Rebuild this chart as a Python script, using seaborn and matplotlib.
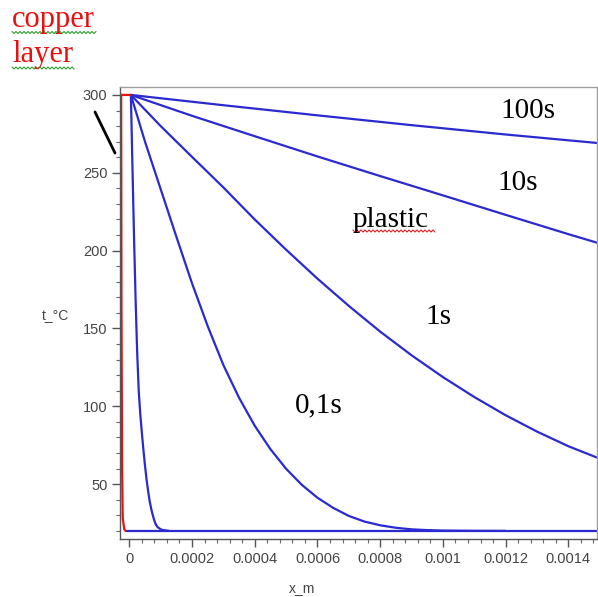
import numpy as np
import pandas as pd
import matplotlib
matplotlib.use("Agg")
import matplotlib.pyplot as plt
from matplotlib.lines import Line2D
from matplotlib.ticker import MultipleLocator, FixedLocator
import seaborn as sns

# ---- data ----
x_fast = [0.000005, 0.000010, 0.000015, 0.000020, 0.000025, 0.000030, 0.000035, 0.000040,
          0.000045, 0.000050, 0.000055, 0.000060, 0.000065, 0.000070, 0.000075, 0.000080,
          0.000085, 0.000090, 0.000100, 0.000110, 0.000125]
t_fast = [300, 254, 209, 169, 135, 110, 95, 83,
          72, 62, 53, 45.5, 39, 34, 30, 26.5,
          24, 22.5, 21, 20.4, 20.1]

x_01s = [0.000005, 0.00005, 0.0001, 0.00015, 0.0002, 0.00025, 0.0003, 0.00035, 0.0004,
         0.00045, 0.0005, 0.00055, 0.0006, 0.00065, 0.0007, 0.00075, 0.0008, 0.00085,
         0.0009, 0.00095, 0.001, 0.0011, 0.0012]
t_01s = [300, 270, 239.5, 209, 179, 151.5, 126.5, 105.5, 87.5,
         72.5, 59.9, 49.6, 41.3, 34.8, 29.6, 26.0, 23.6, 22.0,
         21.0, 20.5, 20.2, 20.05, 20]

x_1s = [0.000005, 0.0001, 0.0002, 0.0003, 0.0004, 0.0005, 0.0006, 0.0007, 0.0008,
        0.0009, 0.001, 0.0011, 0.0012, 0.0013, 0.0014, 0.0015]
t_1s = [300, 280, 260.2, 240.6, 220.0, 200.6, 182.0, 164.5, 148.0,
        132.8, 118.8, 106.0, 94.3, 83.8, 74.4, 66.4]

x_10s = [0.000005, 0.0002, 0.0004, 0.0006, 0.0008, 0.001, 0.0012, 0.0014, 0.0015]
t_10s = [300, 286.6, 273.5, 260.5, 247.9, 235.5, 223.0, 210.6, 204.6]

x_100s = [0.000005, 0.0003, 0.0006, 0.0009, 0.0012, 0.0015]
t_100s = [300, 293.4, 286.9, 280.6, 274.6, 269.0]

x_base = [-0.000012, 0.0015]
t_base = [20, 20]

x_copper = [0.000003, -0.000026, -0.000025, -0.000023, -0.000021, -0.000016, -0.000012]
t_copper = [300, 300, 165, 60, 28, 21, 20]

x_ticks = [0, 0.0002, 0.0004, 0.0006, 0.0008, 0.001, 0.0012, 0.0014]
x_ticklabels = ["0", "0.0002", "0.0004", "0.0006", "0.0008", "0.001", "0.0012", "0.0014"]
y_ticks = [50, 100, 150, 200, 250, 300]

curve_labels = ["100s", "10s", "plastic", "1s", "0,1s"]

# ---- build long table ----
series = {
    "fast": (x_fast, t_fast),
    "0,1s": (x_01s, t_01s),
    "1s": (x_1s, t_1s),
    "10s": (x_10s, t_10s),
    "100s": (x_100s, t_100s),
    "base": (x_base, t_base),
    "copper": (x_copper, t_copper),
}
rows = []
for name, (xs, ts) in series.items():
    for i, (xv, tv) in enumerate(zip(xs, ts)):
        rows.append({"series": name, "order": i, "x_m": xv, "t_C": tv})
df = pd.DataFrame(rows)

sns.set_theme(style="white")
plt.rcParams["font.family"] = ["Liberation Sans", "DejaVu Sans"]

W, H = 598, 597
fig = plt.figure(figsize=(W / 100, H / 100), dpi=100)
ax = fig.add_axes([120 / W, 1 - 539.3 / H, (597 - 120) / W, (539.3 - 87) / H])

blue = "#2a2ad0"
red = "#e81010"
palette = {"fast": blue, "0,1s": blue, "1s": blue, "10s": blue, "100s": blue,
           "base": blue, "copper": red}
order = ["base", "fast", "0,1s", "1s", "10s", "100s", "copper"]
sns.lineplot(data=df, x="x_m", y="t_C", hue="series", hue_order=order,
             units="series", estimator=None, sort=False, palette=palette,
             linewidth=1.6, legend=False, ax=ax)

ax.set_xlim(-0.0000297, 0.0014915)
ax.set_ylim(14.6, 305.1)
ax.xaxis.set_major_locator(FixedLocator(x_ticks))
ax.set_xticklabels(x_ticklabels)
ax.xaxis.set_minor_locator(MultipleLocator(0.00004))
ax.yaxis.set_major_locator(FixedLocator(y_ticks))
ax.yaxis.set_minor_locator(MultipleLocator(10))

ax.tick_params(axis="both", which="major", direction="out", length=6, width=1,
               color="#555555", labelsize=10.5, labelcolor="#444444", pad=3,
               bottom=True, left=True)
ax.tick_params(axis="both", which="minor", direction="out", length=3, width=0.8,
               color="#666666", bottom=True, left=True)

for side in ["left", "bottom"]:
    ax.spines[side].set_color("#555555")
    ax.spines[side].set_linewidth(1.0)
for side in ["top", "right"]:
    ax.spines[side].set_color("#a0a0a0")
    ax.spines[side].set_linewidth(1.0)

ax.set_xlabel("")
ax.set_ylabel("")
fig.text(302 / W, 1 - 592 / H, "x_m", ha="center", va="baseline", fontsize=10, color="#444444")
fig.text(55 / W, 1 - 315 / H, "t_°C", ha="center", va="center", fontsize=10, color="#444444")

serif = ["Liberation Serif", "DejaVu Serif"]
label_pos = {"100s": (500, 118.3), "10s": (497, 190), "plastic": (353, 226.7),
             "1s": (425, 324), "0,1s": (295, 412.7)}
for lab in curve_labels:
    px, py = label_pos[lab]
    fig.text(px / W, 1 - py / H, lab, ha="left", va="baseline", fontsize=21,
             family=serif, color="black")

fig.text(12 / W, 1 - 27 / H, "copper", ha="left", va="baseline", fontsize=22,
         family=serif, color=red)
fig.text(12 / W, 1 - 62 / H, "layer", ha="left", va="baseline", fontsize=22,
         family=serif, color=red)

# black pointer line
fig.add_artist(Line2D([95 / W, 115 / W], [1 - 112 / H, 1 - 153 / H],
                      color="black", linewidth=2.0, transform=fig.transFigure))

# spell-check squiggles
def squiggle(x0, x1, y, color):
    xs = np.arange(x0, x1, 2.0)
    ys = y + np.where(np.arange(len(xs)) % 2 == 0, -1.0, 1.0)
    fig.add_artist(Line2D(xs / W, 1 - ys / H, color=color, linewidth=0.8,
                          transform=fig.transFigure))

squiggle(12, 98, 32.5, "#2aa02a")
squiggle(12, 75, 68, "#2aa02a")
squiggle(353, 437, 231, "#e02020")

fig.savefig("out.png", dpi=100, facecolor="white")
